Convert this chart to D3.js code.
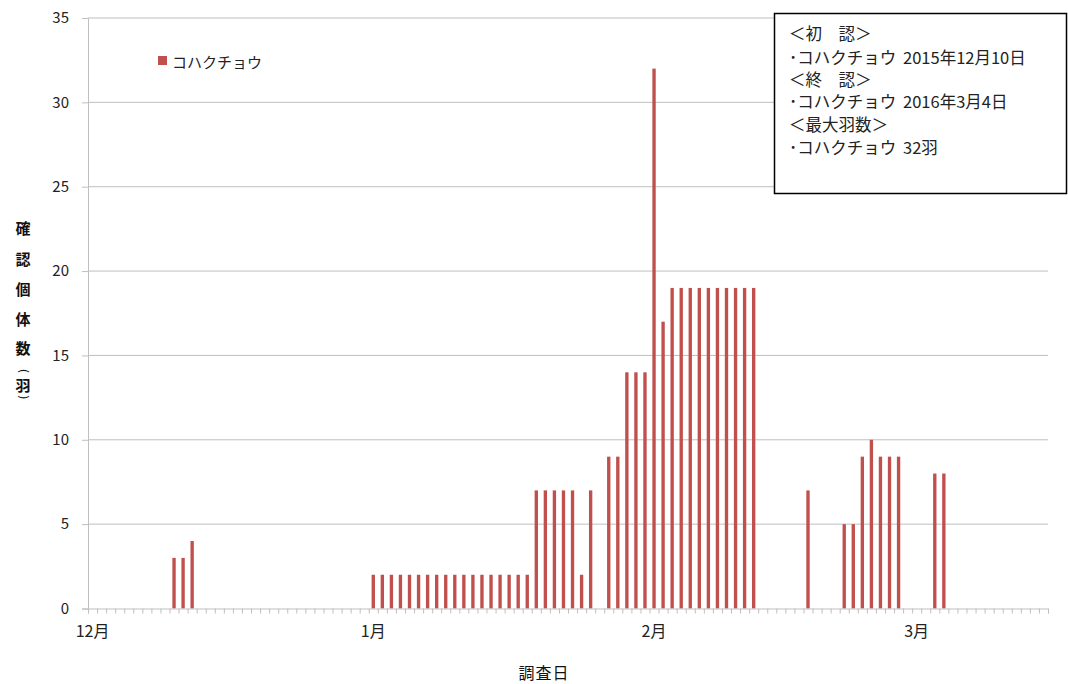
<!DOCTYPE html>
<html><head><meta charset="utf-8">
<script src="https://cdn.jsdelivr.net/npm/d3@7/dist/d3.min.js"></script>
<style>
html,body{margin:0;padding:0;background:#fff;}
svg{display:block;font-family:"Noto Sans CJK JP","Noto Sans",sans-serif;}
</style></head>
<body><svg id="chart" width="1068" height="684"></svg>
<script>
// ---- data ----
const seriesName = "コハクチョウ";
const obsDates = [
  "2015-12-10","2015-12-11","2015-12-12",
  "2016-01-01","2016-01-02","2016-01-03","2016-01-04","2016-01-05","2016-01-06",
  "2016-01-07","2016-01-08","2016-01-09","2016-01-10","2016-01-11","2016-01-12",
  "2016-01-13","2016-01-14","2016-01-15","2016-01-16","2016-01-17","2016-01-18",
  "2016-01-19","2016-01-20","2016-01-21","2016-01-22","2016-01-23","2016-01-24","2016-01-25",
  "2016-01-27","2016-01-28","2016-01-29","2016-01-30","2016-01-31",
  "2016-02-01","2016-02-02","2016-02-03","2016-02-04","2016-02-05","2016-02-06",
  "2016-02-07","2016-02-08","2016-02-09","2016-02-10","2016-02-11","2016-02-12",
  "2016-02-18",
  "2016-02-22","2016-02-23","2016-02-24","2016-02-25","2016-02-26","2016-02-27","2016-02-28",
  "2016-03-03","2016-03-04"
];
const counts = [
  3,3,4,
  2,2,2,2,2,2,
  2,2,2,2,2,2,
  2,2,2,2,2,2,
  7,7,7,7,7,2,7,
  9,9,14,14,14,
  32,17,19,19,19,19,
  19,19,19,19,19,19,
  7,
  5,5,9,10,9,9,9,
  8,8
];
const axisStart = "2015-12-01";
const axisEnd = "2016-03-15";
const monthTickDates = ["2015-12-01","2016-01-01","2016-02-01","2016-03-01"];
const monthTickLabels = ["12月","1月","2月","3月"];
const yTicks = [0,5,10,15,20,25,30,35];
const yTitleChars = ["確","認","個","体","数"];
const yTitleUnit = "羽";
const xTitle = "調査日";
const noteLines = [
  ["＜初　認＞", ""],
  ["･コハクチョウ", "2015年12月10日"],
  ["＜終　認＞", ""],
  ["･コハクチョウ", "2016年3月4日"],
  ["＜最大羽数＞", ""],
  ["･コハクチョウ", "32羽"]
];

// ---- layout ----
const L = 88, R = 1048, T = 18, B = 608.5;
const barColor = "#C0504D";
const gridColor = "#BFBFBF";
const parse = d3.timeParse("%Y-%m-%d");
const fmt = d3.timeFormat("%Y-%m-%d");
const days = d3.timeDay.range(parse(axisStart), d3.timeDay.offset(parse(axisEnd), 1)).map(fmt);

const svg = d3.select("#chart");
const x = d3.scaleBand().domain(days).range([L, R]).paddingInner(0.63).paddingOuter(0.315);
const xi = d3.scaleLinear().domain([0, days.length]).range([L, R]);
const y = d3.scaleLinear().domain([0, 35]).range([B, T]);

// gridlines
svg.append("g").selectAll("line").data(yTicks.filter(d => d > 0)).join("line")
  .attr("x1", L).attr("x2", R).attr("y1", d => y(d)).attr("y2", d => y(d))
  .attr("stroke", gridColor).attr("stroke-width", 1);

// y axis
const yAxis = svg.append("g").attr("transform", `translate(${L},0)`)
  .call(d3.axisLeft(y).tickValues(yTicks).tickSize(6).tickPadding(13));
yAxis.select(".domain").attr("stroke", gridColor);
yAxis.selectAll(".tick line").attr("stroke", gridColor);
yAxis.selectAll("text").attr("font-size", 15).attr("fill", "#222")
  .attr("font-family", "'Noto Sans CJK JP', sans-serif");

// bars
const data = obsDates.map((d, i) => ({date: d, v: counts[i]}));
svg.append("g").selectAll("rect").data(data).join("rect")
  .attr("x", d => x(d.date)).attr("width", x.bandwidth())
  .attr("y", d => y(d.v)).attr("height", d => y(0) - y(d.v))
  .attr("fill", barColor);

// x axis: day boundary ticks
const xAxis = svg.append("g").attr("transform", `translate(0,${B})`)
  .call(d3.axisBottom(xi).tickValues(d3.range(0, days.length + 1)).tickSize(5).tickFormat(""));
xAxis.select(".domain").attr("stroke", gridColor);
xAxis.selectAll(".tick line").attr("stroke", gridColor);

// month labels
const xLab = svg.append("g").attr("transform", `translate(0,${B})`)
  .call(d3.axisBottom(x).tickValues(monthTickDates).tickSize(0).tickPadding(17)
    .tickFormat((d, i) => monthTickLabels[i]));
xLab.select(".domain").remove();
xLab.selectAll("text").attr("font-size", 16).attr("fill", "#222")
  .attr("font-family", "'Noto Sans CJK JP', sans-serif");

// x title
svg.append("text").attr("x", 544).attr("y", 679).attr("text-anchor", "middle")
  .attr("font-size", 16).attr("letter-spacing", 1).attr("fill", "#111").text(xTitle);

// y title (vertical stacked)
const yTitleY = [227, 258, 288, 318, 347];
svg.append("g").selectAll("text").data(yTitleChars).join("text")
  .attr("x", 23).attr("y", (d, i) => yTitleY[i]).attr("text-anchor", "middle")
  .attr("dominant-baseline", "central").attr("font-size", 15).attr("font-weight", "bold")
  .attr("fill", "#111").text(d => d);
svg.append("text").attr("x", 23).attr("y", 384).attr("text-anchor", "middle")
  .attr("dominant-baseline", "central").attr("font-size", 15).attr("font-weight", "bold")
  .attr("fill", "#111").text(yTitleUnit);
[["(", 371], [")", 397]].forEach(([ch, cy]) => {
  svg.append("text").attr("transform", `translate(23,${cy}) rotate(90)`)
    .attr("text-anchor", "middle").attr("dominant-baseline", "central")
    .attr("font-size", 12).attr("fill", "#111")
    .attr("font-family", "'DejaVu Sans', sans-serif").text(ch);
});

// legend
svg.append("rect").attr("x", 158).attr("y", 56).attr("width", 9).attr("height", 9).attr("fill", barColor);
svg.append("text").attr("x", 172).attr("y", 61).attr("dominant-baseline", "central")
  .attr("font-size", 15).attr("fill", "#222").text(seriesName);

// note box
svg.append("rect").attr("x", 774.5).attr("y", 13.5).attr("width", 292).attr("height", 180)
  .attr("fill", "#fff").attr("stroke", "#000").attr("stroke-width", 1.5);
const lineY = [33, 57, 79, 101, 124, 147];
const nt = svg.append("g").selectAll("text").data(noteLines).join("text")
  .attr("y", (d, i) => lineY[i]).attr("dominant-baseline", "central")
  .attr("font-size", 16.5).attr("fill", "#222");
nt.append("tspan").attr("x", 789).text(d => d[0]);
nt.append("tspan").attr("x", 903).text(d => d[1]);
</script></body></html>
